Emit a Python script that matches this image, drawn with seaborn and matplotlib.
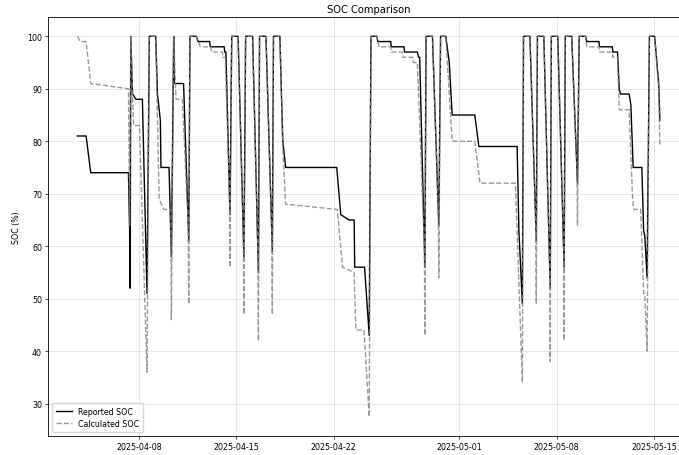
import matplotlib
matplotlib.use("Agg")
import matplotlib.pyplot as plt
import matplotlib.dates as mdates
import pandas as pd
import seaborn as sns

# ---------------- data ----------------
reported_time = [
    "2025-04-03 14:00", "2025-04-04 05:00", "2025-04-04 13:00", "2025-04-07 06:00",
    "2025-04-07 08:00", "2025-04-07 09:00", "2025-04-07 10:00", "2025-04-07 13:00",
    "2025-04-07 19:00", "2025-04-08 06:00", "2025-04-08 14:00", "2025-04-08 18:00",
    "2025-04-09 05:00", "2025-04-09 08:00", "2025-04-09 13:00", "2025-04-09 14:00",
    "2025-04-10 04:00", "2025-04-10 08:00", "2025-04-10 12:00", "2025-04-10 13:00",
    "2025-04-11 05:00", "2025-04-11 14:00", "2025-04-11 16:00", "2025-04-12 03:00",
    "2025-04-12 06:00", "2025-04-13 02:00", "2025-04-13 03:00", "2025-04-14 03:00",
    "2025-04-14 04:00", "2025-04-14 06:00", "2025-04-14 13:00", "2025-04-14 16:00",
    "2025-04-15 03:00", "2025-04-15 13:00", "2025-04-15 16:00", "2025-04-16 04:00",
    "2025-04-16 14:00", "2025-04-16 16:00", "2025-04-17 03:00", "2025-04-17 14:00",
    "2025-04-17 16:00", "2025-04-18 03:00", "2025-04-18 08:00", "2025-04-18 13:00",
    "2025-04-22 05:00", "2025-04-22 12:00", "2025-04-23 02:00", "2025-04-23 11:00",
    "2025-04-23 12:00", "2025-04-24 05:00", "2025-04-24 13:00", "2025-04-24 16:00",
    "2025-04-25 02:00", "2025-04-25 04:00", "2025-04-26 02:00", "2025-04-26 03:00",
    "2025-04-27 01:00", "2025-04-27 02:00", "2025-04-28 00:00", "2025-04-28 02:00",
    "2025-04-28 04:00", "2025-04-28 13:00", "2025-04-28 15:00", "2025-04-29 02:00",
    "2025-04-29 13:00", "2025-04-29 16:00", "2025-04-30 01:00", "2025-04-30 07:00",
    "2025-04-30 12:00", "2025-05-02 03:00", "2025-05-02 10:00", "2025-05-05 04:00",
    "2025-05-05 07:00", "2025-05-05 13:00", "2025-05-05 15:00", "2025-05-06 02:00",
    "2025-05-06 13:00", "2025-05-06 15:00", "2025-05-07 02:00", "2025-05-07 13:00",
    "2025-05-07 15:00", "2025-05-08 02:00", "2025-05-08 13:00", "2025-05-08 15:00",
    "2025-05-09 02:00", "2025-05-09 12:00", "2025-05-09 15:00", "2025-05-10 02:00",
    "2025-05-10 04:00", "2025-05-11 01:00", "2025-05-11 02:00", "2025-05-12 00:00",
    "2025-05-12 01:00", "2025-05-12 09:00", "2025-05-12 12:00", "2025-05-12 14:00",
    "2025-05-13 05:00", "2025-05-13 08:00", "2025-05-13 12:00", "2025-05-14 03:00",
    "2025-05-14 06:00", "2025-05-14 08:00", "2025-05-14 12:00", "2025-05-14 16:00",
    "2025-05-15 01:00", "2025-05-15 08:00", "2025-05-15 10:00",
]
reported_soc = [
    81, 81, 74, 74,
    63, 52, 100, 89,
    88, 88, 51, 100,
    100, 89, 84, 75,
    75, 58, 100, 91,
    91, 61, 100, 100,
    99, 99, 98, 98,
    97, 97, 66, 100,
    100, 58, 100, 100,
    55, 100, 100, 59,
    100, 100, 80, 75,
    75, 66, 65, 65,
    56, 56, 43, 100,
    100, 99, 99, 98,
    98, 97, 97, 96,
    96, 56, 100, 100,
    64, 100, 100, 95,
    85, 85, 79, 79,
    63, 49, 100, 100,
    61, 100, 100, 52,
    100, 100, 56, 100,
    100, 72, 100, 100,
    99, 99, 98, 98,
    97, 97, 90, 89,
    89, 87, 75, 75,
    63, 62, 54, 100,
    100, 91, 84,
]

calculated_time = [
    "2025-04-03 14:00", "2025-04-03 19:00", "2025-04-04 05:00", "2025-04-04 13:00",
    "2025-04-07 06:00", "2025-04-07 08:00", "2025-04-07 10:00", "2025-04-07 13:00",
    "2025-04-07 15:00", "2025-04-08 01:00", "2025-04-08 14:00", "2025-04-08 18:00",
    "2025-04-09 05:00", "2025-04-09 11:00", "2025-04-09 19:00", "2025-04-10 07:00",
    "2025-04-10 08:00", "2025-04-10 12:00", "2025-04-10 16:00", "2025-04-11 03:00",
    "2025-04-11 13:00", "2025-04-11 14:00", "2025-04-11 16:00", "2025-04-12 03:00",
    "2025-04-12 10:00", "2025-04-13 04:00", "2025-04-13 05:00", "2025-04-14 00:00",
    "2025-04-14 01:00", "2025-04-14 05:00", "2025-04-14 12:00", "2025-04-14 13:00",
    "2025-04-14 16:00", "2025-04-15 03:00", "2025-04-15 12:00", "2025-04-15 13:00",
    "2025-04-15 16:00", "2025-04-16 04:00", "2025-04-16 13:00", "2025-04-16 14:00",
    "2025-04-16 16:00", "2025-04-17 03:00", "2025-04-17 13:00", "2025-04-17 14:00",
    "2025-04-17 16:00", "2025-04-18 03:00", "2025-04-18 08:00", "2025-04-18 13:00",
    "2025-04-22 06:00", "2025-04-22 15:00", "2025-04-23 11:00", "2025-04-23 14:00",
    "2025-04-24 04:00", "2025-04-24 13:00", "2025-04-24 16:00", "2025-04-25 02:00",
    "2025-04-25 06:00", "2025-04-26 02:00", "2025-04-26 03:00", "2025-04-26 22:00",
    "2025-04-26 23:00", "2025-04-27 16:00", "2025-04-27 17:00", "2025-04-28 00:00",
    "2025-04-28 12:00", "2025-04-28 13:00", "2025-04-28 15:00", "2025-04-29 02:00",
    "2025-04-29 12:00", "2025-04-29 13:00", "2025-04-29 16:00", "2025-04-30 01:00",
    "2025-04-30 12:00", "2025-05-02 03:00", "2025-05-02 12:00", "2025-05-05 01:00",
    "2025-05-05 13:00", "2025-05-05 15:00", "2025-05-06 02:00", "2025-05-06 12:00",
    "2025-05-06 13:00", "2025-05-06 15:00", "2025-05-07 02:00", "2025-05-07 12:00",
    "2025-05-07 13:00", "2025-05-07 15:00", "2025-05-08 02:00", "2025-05-08 12:00",
    "2025-05-08 13:00", "2025-05-08 15:00", "2025-05-09 02:00", "2025-05-09 11:00",
    "2025-05-09 12:00", "2025-05-09 15:00", "2025-05-10 02:00", "2025-05-10 04:00",
    "2025-05-11 01:00", "2025-05-11 02:00", "2025-05-12 00:00", "2025-05-12 01:00",
    "2025-05-12 09:00", "2025-05-12 12:00", "2025-05-13 05:00", "2025-05-13 11:00",
    "2025-05-13 13:00", "2025-05-14 01:00", "2025-05-14 06:00", "2025-05-14 08:00",
    "2025-05-14 12:00", "2025-05-14 16:00", "2025-05-15 01:00", "2025-05-15 08:00",
    "2025-05-15 10:00",
]
calculated_soc = [
    100, 99, 99, 91,
    90, 64, 100, 89,
    83, 83, 36, 100,
    100, 69, 67, 67,
    46, 100, 88, 88,
    64, 49, 100, 100,
    98, 98, 97, 97,
    96, 96, 70, 56,
    100, 100, 62, 47,
    100, 100, 60, 42,
    100, 100, 63, 47,
    100, 100, 79, 68,
    67, 56, 55, 44,
    44, 27.5, 100, 100,
    98, 98, 97, 97,
    96, 96, 95, 95,
    60, 43, 100, 100,
    67, 54, 100, 100,
    80, 80, 72, 72,
    34, 100, 100, 65,
    49, 100, 100, 56,
    38, 100, 100, 60,
    42, 100, 100, 75,
    64, 100, 100, 98,
    98, 97, 97, 96,
    96, 86, 86, 69,
    67, 67, 51, 51,
    40, 100, 100, 90,
    79,
]

# ---------------- plot ----------------
rep = pd.DataFrame({"time": pd.to_datetime(reported_time), "soc": reported_soc})
cal = pd.DataFrame({"time": pd.to_datetime(calculated_time), "soc": calculated_soc})

fig = plt.figure(figsize=(6.79, 4.56), dpi=100)
ax = fig.add_axes([0.0711, 0.0423, 0.9436, 0.9176])

sns.lineplot(data=rep, x="time", y="soc", ax=ax, color="black", linewidth=1.0,
             estimator=None, label="Reported SOC")
sns.lineplot(data=cal, x="time", y="soc", ax=ax, color="gray", alpha=0.8,
             linestyle="--", linewidth=1.0, estimator=None, label="Calculated SOC")

ax.xaxis.set_major_locator(mdates.DayLocator(bymonthday=[1, 8, 15, 22]))
ax.xaxis.set_major_formatter(mdates.DateFormatter("%Y-%m-%d"))
ax.grid(True, alpha=0.35, linewidth=0.6)
ax.set_title("SOC Comparison", fontsize=7.2, pad=4)
ax.set_xlabel("")
ax.set_ylabel("SOC (%)", fontsize=5.7, labelpad=4)
ax.tick_params(labelsize=5.7, width=0.5, length=2.5, pad=2)
for s in ax.spines.values():
    s.set_linewidth(0.6)
ax.legend(loc="lower left", fontsize=5.7, frameon=True, handlelength=2.0,
          borderpad=0.5, labelspacing=0.4)

fig.savefig("out.png", dpi=100)
